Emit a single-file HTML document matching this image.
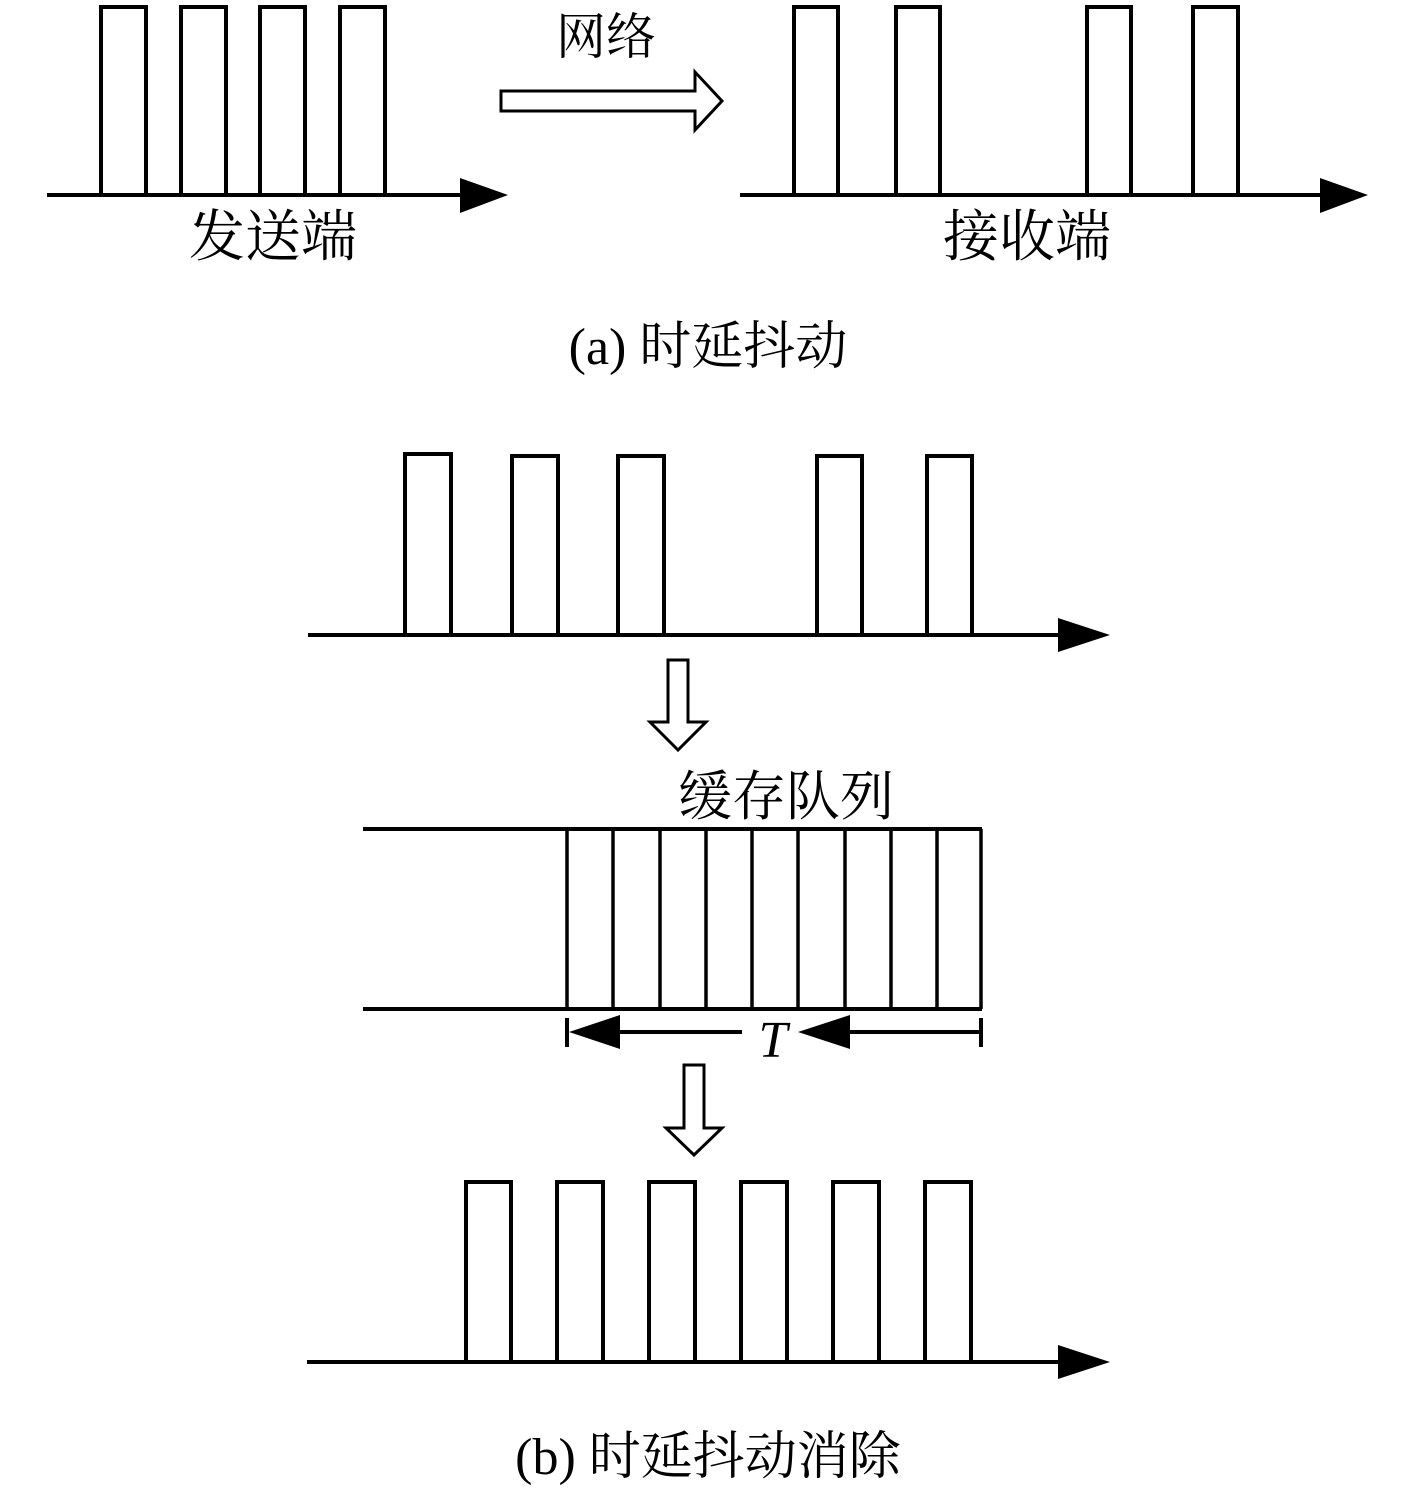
<!DOCTYPE html>
<html><head><meta charset="utf-8"><style>body{margin:0;background:#fff}svg{display:block}</style></head><body>
<svg width="1417" height="1500" viewBox="0 0 1417 1500" xmlns="http://www.w3.org/2000/svg" font-family="Liberation Serif, Noto Serif CJK SC, serif">
<g fill="none" stroke="#000" stroke-width="4">
<!-- a left -->
<line x1="47" y1="195" x2="465" y2="195"/>
<path d="M101 195V7H146V195M181 195V7H226V195M260 195V7H305V195M340 195V7H385V195"/>
<!-- a right -->
<line x1="740" y1="195" x2="1325" y2="195"/>
<path d="M794 195V7H838V195M896 195V7H940V195M1087 195V7H1131V195M1193 195V7H1238V195"/>
<!-- hollow arrow -->
<path d="M501 91H695V72L722 101L695 130V111H501Z" stroke-width="3"/>
<!-- b top -->
<line x1="308" y1="635" x2="1062" y2="635"/>
<path d="M405 635V454H451V635M512 635V456H558V635M618 635V456H664V635M817 635V456H862V635M927 635V456H972V635"/>
<!-- down arrow 1 -->
<path d="M668 660H688V722H706L678 750L650 722H668Z" stroke-width="3"/>
<!-- queue -->
<line x1="363" y1="829" x2="982" y2="829"/>
<line x1="363" y1="1009" x2="982" y2="1009"/>
<path d="M567 829V1009M613 829V1009M660 829V1009M706 829V1009M752 829V1009M798 829V1009M845 829V1009M891 829V1009M937 829V1009M981 829V1009" stroke-width="3.5"/>
<path d="M567 1018V1047M981 1018V1047M620 1032H742M850 1032H981"/>
<!-- down arrow 2 -->
<path d="M684 1065H704V1128H722L694 1155L666 1128H684Z" stroke-width="3"/>
<!-- bottom -->
<line x1="307" y1="1362" x2="1062" y2="1362"/>
<path d="M466 1362V1182H511V1362M557 1362V1182H603V1362M649 1362V1182H695V1362M741 1362V1182H787V1362M833 1362V1182H879V1362M925 1362V1182H971V1362"/>
</g>
<g fill="#000">
<path d="M460 178L508 195L460 213Z"/>
<path d="M1320 178L1368 195L1320 213Z"/>
<path d="M1058 618L1110 635L1058 652Z"/>
<path d="M1058 1345L1110 1362L1058 1379Z"/>
<path d="M569 1032L620 1015L620 1049Z"/>
<path d="M798 1032L850 1015L850 1049Z"/>
</g>
<g fill="#000" font-size="54">
<text x="606" y="54" text-anchor="middle" font-size="50">网络</text>
<text x="273" y="256" text-anchor="middle" font-size="56">发送端</text>
<text x="1027" y="256" text-anchor="middle" font-size="56">接收端</text>
<text x="708" y="364" text-anchor="middle" font-size="52">(a) 时延抖动</text>
<text x="786" y="815" text-anchor="middle" font-size="54">缓存队列</text>
<text x="773" y="1057" text-anchor="middle" font-size="52" font-style="italic">T</text>
<text x="708" y="1474" text-anchor="middle" font-size="52">(b) 时延抖动消除</text>
</g>
</svg>
</body></html>
